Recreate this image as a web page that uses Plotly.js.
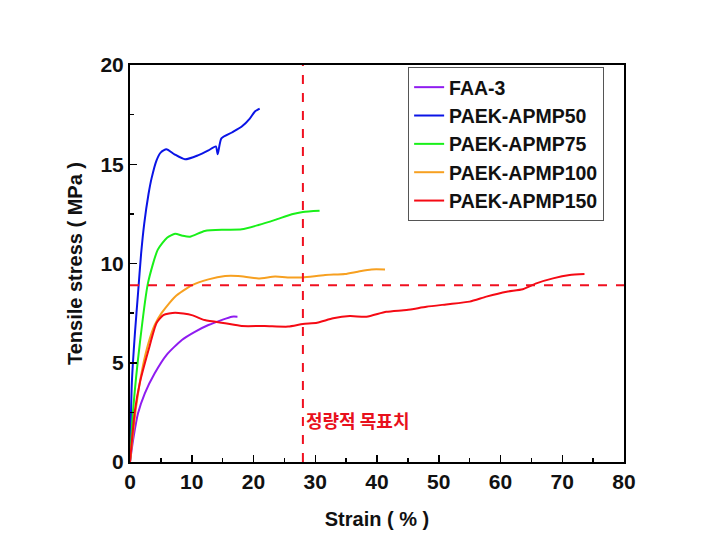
<!DOCTYPE html>
<html>
<head>
<meta charset="utf-8">
<script src="https://cdn.plot.ly/plotly-3.0.1.min.js"></script>
<style>
  body { margin: 0; background: #fff; }
  #chart { width: 724px; height: 555px; }
</style>
</head>
<body>
<div id="chart"></div>
<script>
// strain (%) / tensile stress (MPa)
const faaStrain = [0, 0.5, 1.3, 2.4, 4.0, 5.9, 8.4, 10.5, 12.7, 14.8, 16.5, 17.4];
const faaStress = [0, 1.1, 2.45, 3.46, 4.47, 5.39, 6.15, 6.56, 6.9, 7.15, 7.32, 7.32];

const p50Strain = [0, 0.3, 0.8, 1.3, 1.8, 2.3, 3.0, 3.5, 4.3, 5.0, 5.9, 7.2, 8.9, 11.0, 12.7, 13.9, 14.2, 14.8, 16.5, 18.1, 19.4, 20.2, 21.0];
const p50Stress = [0, 4.0, 6.5, 8.5, 10.5, 12.0, 13.5, 14.3, 15.2, 15.6, 15.75, 15.5, 15.25, 15.45, 15.7, 15.9, 15.5, 16.3, 16.6, 16.9, 17.3, 17.65, 17.8];

const p75Strain = [0, 0.5, 1.6, 2.9, 4.5, 6.0, 7.3, 8.5, 9.7, 12.1, 15.4, 18.1, 20.8, 23.5, 26.2, 28.0, 30.7];
const p75Stress = [0, 2.6, 6.0, 9.0, 10.7, 11.3, 11.5, 11.4, 11.35, 11.64, 11.7, 11.72, 11.94, 12.2, 12.48, 12.6, 12.66];

const p100Strain = [0, 1.0, 2.0, 3.0, 4.0, 5.1, 7.3, 10.0, 12.7, 15.4, 17.5, 20.8, 23.5, 26.2, 28.0, 31.6, 34.8, 36.9, 39.1, 41.3];
const p100Stress = [0, 2.8, 4.7, 6.0, 6.9, 7.5, 8.33, 8.9, 9.2, 9.37, 9.37, 9.25, 9.34, 9.29, 9.3, 9.42, 9.47, 9.59, 9.7, 9.7];

const p150Strain = [0, 0.8, 1.6, 3.0, 4.3, 5.4, 7.3, 10.0, 12.1, 15.4, 18.1, 21.8, 25.6, 28.0, 30.3, 32.9, 35.6, 38.3, 41.5, 44.8, 48.0, 51.2, 55.0, 57.7, 61.0, 63.6, 65.8, 68.5, 71.2, 73.6];
const p150Stress = [0, 2.6, 4.0, 5.64, 7.0, 7.4, 7.52, 7.4, 7.15, 6.99, 6.85, 6.85, 6.82, 6.95, 7.02, 7.24, 7.35, 7.32, 7.57, 7.66, 7.82, 7.94, 8.08, 8.33, 8.58, 8.7, 9.0, 9.25, 9.42, 9.47];

const seriesNames = ['FAA-3', 'PAEK-APMP50', 'PAEK-APMP75', 'PAEK-APMP100', 'PAEK-APMP150'];
const seriesColors = ['#8f1cf0', '#0a14e6', '#19f019', '#f7a020', '#f50a14'];

// target values (dashed guide lines)
const targetStrain = 28;
const targetStress = 8.9;
const targetLabel = '정량적 목표치';

const xs = [faaStrain, p50Strain, p75Strain, p100Strain, p150Strain];
const ys = [faaStress, p50Stress, p75Stress, p100Stress, p150Stress];

const traces = seriesNames.map((name, i) => ({
    x: xs[i],
    y: ys[i],
    name: name,
    type: 'scatter',
    mode: 'lines',
    line: {color: seriesColors[i], width: 2, shape: 'spline', smoothing: 0.6}
}));

const fam = 'Arial, "Liberation Sans", sans-serif';
const tickFont = {family: fam, size: 21, color: '#111', weight: 'bold'};
const titleFont = {family: fam, size: 20, color: '#111', weight: 'bold'};
const legendFont = {family: fam, size: 19.5, color: '#111', weight: 'bold'};

const axisCommon = {
    showline: true,
    linecolor: '#000',
    linewidth: 2,
    mirror: true,
    showgrid: false,
    zeroline: false,
    ticks: 'inside',
    ticklen: 7,
    tickwidth: 1.5,
    tickcolor: '#000',
    tickfont: tickFont
};

const layout = {
    width: 724,
    height: 555,
    margin: {l: 130, r: 100, t: 65, b: 93},
    paper_bgcolor: '#fff',
    plot_bgcolor: '#fff',
    showlegend: true,
    legend: {
        x: 0.563, y: 0.995, xanchor: 'left', yanchor: 'top',
        bordercolor: '#555', borderwidth: 1, bgcolor: '#fff',
        font: legendFont, tracegroupgap: 0
    },
    xaxis: Object.assign({}, axisCommon, {
        range: [0, 80],
        dtick: 10,
        minor: {dtick: 5, ticks: 'inside', ticklen: 4, tickcolor: '#000', tickwidth: 1.5},
        title: {text: 'Strain ( % )', font: titleFont, standoff: 20}
    }),
    yaxis: Object.assign({}, axisCommon, {
        range: [0, 20],
        dtick: 5,
        minor: {dtick: 2.5, ticks: 'inside', ticklen: 4, tickcolor: '#000', tickwidth: 1.5},
        title: {text: 'Tensile stress ( MPa )', font: titleFont, standoff: 12}
    }),
    shapes: [
        {type: 'line', xref: 'x', yref: 'paper', x0: targetStrain, x1: targetStrain, y0: 0, y1: 1,
         line: {color: '#f01020', width: 2, dash: 'dash'}},
        {type: 'line', xref: 'paper', yref: 'y', x0: 0, x1: 1, y0: targetStress, y1: targetStress,
         line: {color: '#f01020', width: 2, dash: 'dash'}}
    ],
    annotations: [
        {x: targetStrain, y: 2.1, xref: 'x', yref: 'y', xanchor: 'left', xshift: 1,
         text: targetLabel, showarrow: false,
         font: {family: '"Noto Sans CJK KR", sans-serif', size: 18, color: '#e8101c', weight: 'bold'}}
    ]
};

Plotly.newPlot('chart', traces, layout, {displayModeBar: false, staticPlot: true});
</script>
</body>
</html>
